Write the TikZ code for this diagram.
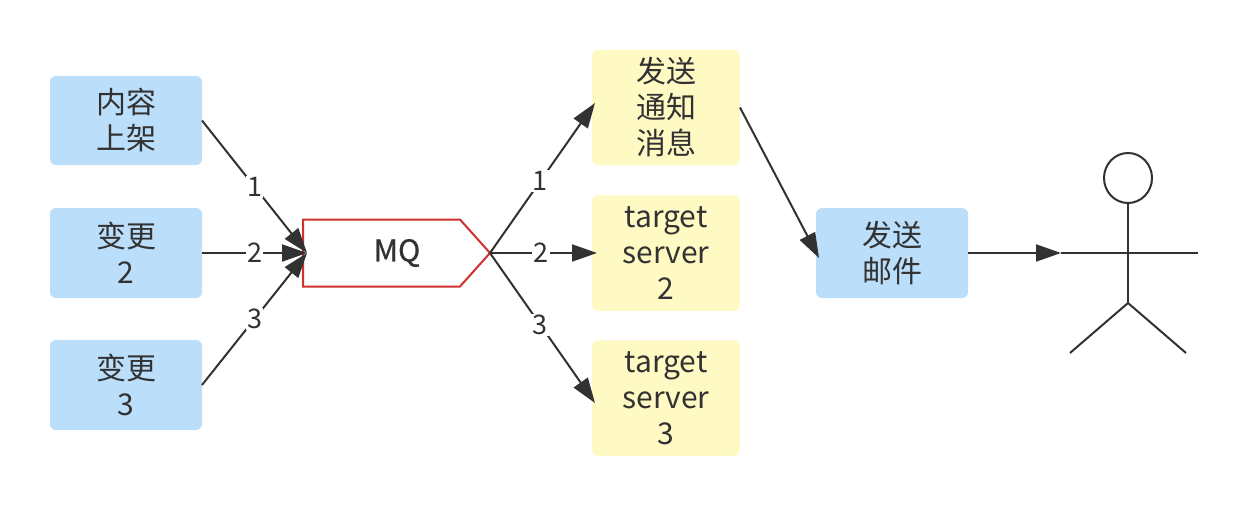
\documentclass[tikz,border=0pt]{standalone}
\usepackage{fontspec}
\setmainfont{Noto Sans CJK SC}
\newfontfamily\mqfont[FakeBold=0.8]{Noto Sans CJK SC}
\usetikzlibrary{arrows.meta,shapes.symbols,shapes.geometric}
\definecolor{bluefill}{HTML}{BBDEFB}
\definecolor{yellowfill}{HTML}{FFF9C4}
\definecolor{ink}{HTML}{323232}
\definecolor{mqred}{HTML}{D32F2F}
\tikzset{
  x=1pt,y=-1pt,
  bluebox/.style={fill=bluefill,rounded corners=6pt,minimum width=152pt,align=center,text=ink,font=\fontsize{30}{36}\selectfont,inner sep=0pt,outer sep=0pt},
  yellowbox/.style={fill=yellowfill,rounded corners=6pt,minimum width=148pt,minimum height=115.5pt,align=center,text=ink,font=\fontsize{30}{36}\selectfont,inner sep=0pt,outer sep=0pt},
  conn/.style={draw=ink,line width=2pt,-{Triangle[length=25pt,width=17pt,fill=ink]}},
  elabel/.style={fill=white,text=ink,font=\fontsize{27}{30}\selectfont,inner sep=1.5pt},
  actor/.style={draw=ink,line width=2pt}
}
\begin{document}
\begin{tikzpicture}
\useasboundingbox (0,0) rectangle (1248,506);
\node[bluebox,minimum height=89pt] (a1) at (126,120.5) {内容\\上架};
\node[bluebox,minimum height=90pt] (a2) at (126,253) {变更\\2};
\node[bluebox,minimum height=90pt] (a3) at (126,385) {变更\\3};
\node[signal,signal to=east,signal pointer angle=96.3,draw=mqred,line width=2pt,fill=white,minimum width=187pt,minimum height=67pt,inner sep=0pt,outer sep=0pt] (mq) at (381.5,253) {};
\node[text=ink,font=\fontsize{30}{34}\mqfont,inner sep=0pt] (mqtext) at (397,253) {MQ};
\node[yellowbox] (b1) at (666,107.5) {发送\\通知\\消息};
\node[yellowbox] (b2) at (666,253) {target\\server\\2};
\node[yellowbox] (b3) at (666,398) {target\\server\\3};
\node[bluebox,minimum height=90pt] (c) at (892,253) {发送\\邮件};
\coordinate (headc) at (1128,178);
\node[draw=ink,line width=2pt,ellipse,minimum width=48pt,minimum height=50pt,inner sep=0pt,outer sep=0pt] (head) at (headc) {};
\coordinate (armL) at (1061,253);
\coordinate (armR) at (1198,253);
\coordinate (hip) at (1128,303);
\coordinate (legL) at (1070,353);
\coordinate (legR) at (1186,353);
\draw[actor] (head.south) -- (hip);
\draw[actor] (armL) -- (armR);
\draw[actor] (legL) -- (hip) -- (legR);
\coordinate (mqin) at ([xshift=4pt]mq.west);
\coordinate (t1) at (595,103);
\coordinate (t2) at (597,253);
\coordinate (t3) at (595,403);
\coordinate (t4) at (819,258);
\draw[conn] (a1.east) -- node[elabel,pos=.5]{1} (mqin);
\draw[conn] (a2.east) -- node[elabel,pos=.5]{2} (mqin);
\draw[conn] (a3.east) -- node[elabel,pos=.5]{3} (mqin);
\draw[conn] (mq.east) -- node[elabel,pos=.48]{1} (t1);
\draw[conn] (mq.east) -- node[elabel,pos=.48]{2} (t2);
\draw[conn] (mq.east) -- node[elabel,pos=.48]{3} (t3);
\draw[conn] (b1.east) -- (t4);
\draw[conn] (c.east) -- (armL);
\end{tikzpicture}
\end{document}
